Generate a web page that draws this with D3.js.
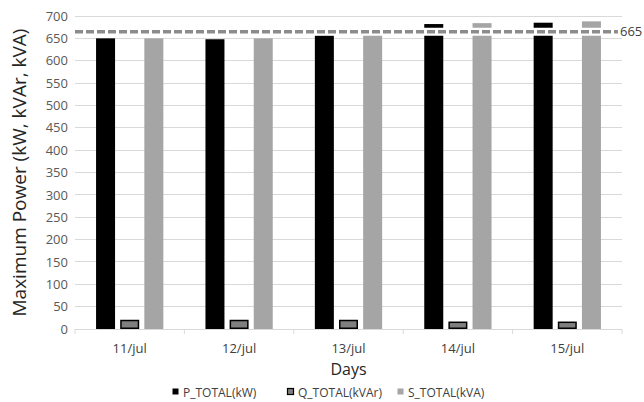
<!DOCTYPE html>
<html>
<head>
<meta charset="utf-8">
<script src="https://cdn.jsdelivr.net/npm/d3@7"></script>
<style>
  html, body { margin: 0; padding: 0; background: #fff; }
  svg { display: block; font-family: "Open Sans", "Noto Sans", sans-serif; }
</style>
</head>
<body>
<svg id="chart" width="644" height="402"></svg>
<script>
// Daily maximum power per quantity
const days = ["11/jul", "12/jul", "13/jul", "14/jul", "15/jul"];
const seriesNames = ["P_TOTAL(kW)", "Q_TOTAL(kVAr)", "S_TOTAL(kVA)"];
const pTotal = [650, 648, 657, 682, 685];
const qTotal = [19, 19, 19, 15, 15];
const sTotal = [650, 650, 660, 684, 688];
const limitValue = 665;
const yTicks = [0, 50, 100, 150, 200, 250, 300, 350, 400, 450, 500, 550, 600, 650, 700];

const seriesValues = [pTotal, qTotal, sTotal];
const fills = ["#000000", "#7f7f7f", "#a5a5a5"];
const strokes = [null, "#000000", null];

const svg = d3.select("#chart");
const plotLeft = 75, plotRight = 622, plotTop = 16, plotBottom = 329;

const x0 = d3.scaleBand().domain(days).range([plotLeft, plotRight]).paddingInner(0.385).paddingOuter(0.1925);
const x1 = d3.scaleBand().domain(d3.range(3)).range([0, x0.bandwidth()]).paddingInner(0.213);
const y = d3.scaleLinear().domain([0, 700]).range([plotBottom, plotTop]);

// horizontal gridlines
svg.append("g").selectAll("line").data(yTicks.filter(d => d > 0)).join("line")
  .attr("x1", plotLeft).attr("x2", plotRight)
  .attr("y1", d => y(d)).attr("y2", d => y(d))
  .attr("stroke", "#d9d9d9").attr("stroke-width", 1).attr("shape-rendering", "crispEdges");

// y axis labels
const yAxis = d3.axisLeft(y).tickValues(yTicks).tickSize(0).tickPadding(7);
const gy = svg.append("g").attr("transform", `translate(${plotLeft},0)`).call(yAxis);
gy.select(".domain").remove();
gy.selectAll("text").attr("font-size", 13).attr("fill", "#595959")
  .attr("font-family", "'Open Sans', sans-serif");

// bars
const groups = svg.append("g").selectAll("g").data(days).join("g")
  .attr("transform", d => `translate(${x0(d)},0)`);
groups.selectAll("rect").data((d, i) => seriesValues.map((s, k) => ({ k, v: s[i] }))).join("rect")
  .attr("x", d => x1(d.k) + (strokes[d.k] ? 0.75 : 0))
  .attr("width", d => x1.bandwidth() - (strokes[d.k] ? 1.5 : 0))
  .attr("y", d => y(d.v))
  .attr("height", d => y(0) - y(d.v) - (strokes[d.k] ? 0.75 : 0))
  .attr("fill", d => fills[d.k])
  .attr("stroke", d => strokes[d.k] || "none")
  .attr("stroke-width", 1.5);

// category axis baseline with boundary ticks
const xAxis = svg.append("g");
xAxis.append("line").attr("x1", plotLeft).attr("x2", plotRight)
  .attr("y1", plotBottom + 0.5).attr("y2", plotBottom + 0.5)
  .attr("stroke", "#d9d9d9").attr("stroke-width", 1);
const bounds = days.map(d => x0(d) - x0.step() * x0.paddingInner() / 2).concat([plotRight]);
xAxis.selectAll("line.tk").data(bounds).join("line").attr("class", "tk")
  .attr("x1", d => d).attr("x2", d => d)
  .attr("y1", plotBottom).attr("y2", plotBottom + 5)
  .attr("stroke", "#d9d9d9").attr("stroke-width", 1);
xAxis.selectAll("text").data(days).join("text")
  .attr("x", d => x0(d) + x0.bandwidth() / 2)
  .attr("y", 353)
  .attr("text-anchor", "middle")
  .attr("font-size", 13).attr("fill", "#404040")
  .text(d => d);

// limit line at 665 with white halo
svg.append("line").attr("x1", plotLeft).attr("x2", 618)
  .attr("y1", y(limitValue)).attr("y2", y(limitValue))
  .attr("stroke", "#ffffff").attr("stroke-width", 8);
svg.append("line").attr("x1", plotLeft).attr("x2", 618)
  .attr("y1", y(limitValue)).attr("y2", y(limitValue))
  .attr("stroke", "#8c8c8c").attr("stroke-width", 3.5)
  .attr("stroke-dasharray", "8,3");
svg.append("text").attr("x", 620).attr("y", y(limitValue) + 4.5)
  .attr("font-size", 13).attr("fill", "#404040").text(limitValue);

// axis titles
svg.append("text")
  .attr("transform", `translate(26,${(plotTop + plotBottom) / 2}) rotate(-90)`)
  .attr("text-anchor", "middle")
  .attr("font-size", 19).attr("fill", "#262626")
  .text("Maximum Power (kW, kVAr, kVA)");
svg.append("text").attr("x", (plotLeft + plotRight) / 2).attr("y", 375)
  .attr("text-anchor", "middle")
  .attr("font-size", 16).attr("fill", "#262626")
  .text("Days");

// legend
const legendX = [172, 287, 397];
const leg = svg.append("g").selectAll("g").data(seriesNames).join("g")
  .attr("transform", (d, i) => `translate(${legendX[i]},388)`);
leg.append("rect").attr("x", 0.5).attr("y", 0.5).attr("width", 6).attr("height", 6)
  .attr("fill", (d, i) => fills[i])
  .attr("stroke", (d, i) => strokes[i] || "none").attr("stroke-width", 1.2);
leg.append("text").attr("x", 11).attr("y", 8.5)
  .attr("font-size", 12).attr("fill", "#404040")
  .text(d => d);
</script>
</body>
</html>
